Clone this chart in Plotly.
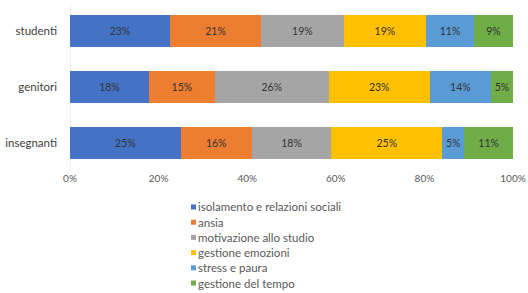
import plotly.graph_objects as go

categories = ["studenti", "genitori", "insegnanti"]
series_names = ["isolamento e relazioni sociali", "ansia", "motivazione allo studio",
                "gestione emozioni", "stress e paura", "gestione del tempo"]
isolamento = [23, 18, 25]
ansia = [21, 15, 16]
motivazione = [19, 26, 18]
emozioni = [19, 23, 25]
stress = [11, 14, 5]
tempo = [9, 5, 11]
tick_vals = [0, 20, 40, 60, 80, 100]
tick_labels = ["0%", "20%", "40%", "60%", "80%", "100%"]

series_values = [isolamento, ansia, motivazione, emozioni, stress, tempo]
colors = ["#4472C4", "#ED7D31", "#A5A5A5", "#FFC000", "#5B9BD5", "#70AD47"]
font_family = "Lato, Liberation Sans, sans-serif"

W, H = 528, 293
ML, MR, MT, MB = 70, 15, 3, 122
PW = W - ML - MR
PH = H - MT - MB

fig = go.Figure()
for name, vals, col in zip(series_names, series_values, colors):
    fig.add_trace(go.Bar(
        y=categories, x=vals, name=name, orientation="h",
        marker=dict(color=col, line=dict(width=0)),
        text=[f"{v}%" for v in vals], textposition="inside",
        insidetextanchor="middle",
        textfont=dict(family=font_family, size=10.5, color="#333333"),
        hoverinfo="skip", showlegend=False,
    ))

fig.update_layout(
    width=W, height=H,
    barmode="stack", barnorm="percent", bargap=0.43,
    plot_bgcolor="white", paper_bgcolor="white",
    margin=dict(l=ML, r=MR, t=MT, b=MB, autoexpand=False),
    font=dict(family=font_family, size=10, color="#404040"),
    uniformtext=dict(mode="show", minsize=8),
    xaxis=dict(range=[0, 100], tickvals=tick_vals, ticktext=tick_labels,
               showgrid=False, zeroline=False, showline=False, automargin=False,
               tickfont=dict(size=10, color="#595959")),
    yaxis=dict(autorange="reversed", showgrid=False, ticks="", ticklen=0,
               automargin=False, ticklabelstandoff=12,
               tickfont=dict(size=11.5, color="#404040")),
    showlegend=False,
)
fig.add_shape(type="line", xref="x", yref="paper", x0=0, x1=0, y0=0, y1=1,
              line=dict(color="#E6E6E6", width=1), layer="below")

# custom legend (pixel positions converted to paper coordinates)
def px_x(x):
    return (x - ML) / PW

def px_y(y):
    return (H - MB - y) / PH

row0, row_step = 207, 15.2
for i, (name, col) in enumerate(zip(series_names, colors)):
    yc = row0 + i * row_step
    fig.add_shape(type="rect", xref="paper", yref="paper",
                  x0=px_x(191), x1=px_x(196), y0=px_y(yc + 2.5), y1=px_y(yc - 2.5),
                  fillcolor=col, line=dict(width=0))
    fig.add_annotation(xref="paper", yref="paper", x=px_x(197), y=px_y(yc),
                       xanchor="left", yanchor="middle", text=name, showarrow=False,
                       borderpad=0,
                       font=dict(family=font_family, size=11.5, color="#595959"))

fig.write_html("out.html", config={"displayModeBar": False},
               post_script="document.body.style.margin='0';document.body.style.overflow='hidden';")
